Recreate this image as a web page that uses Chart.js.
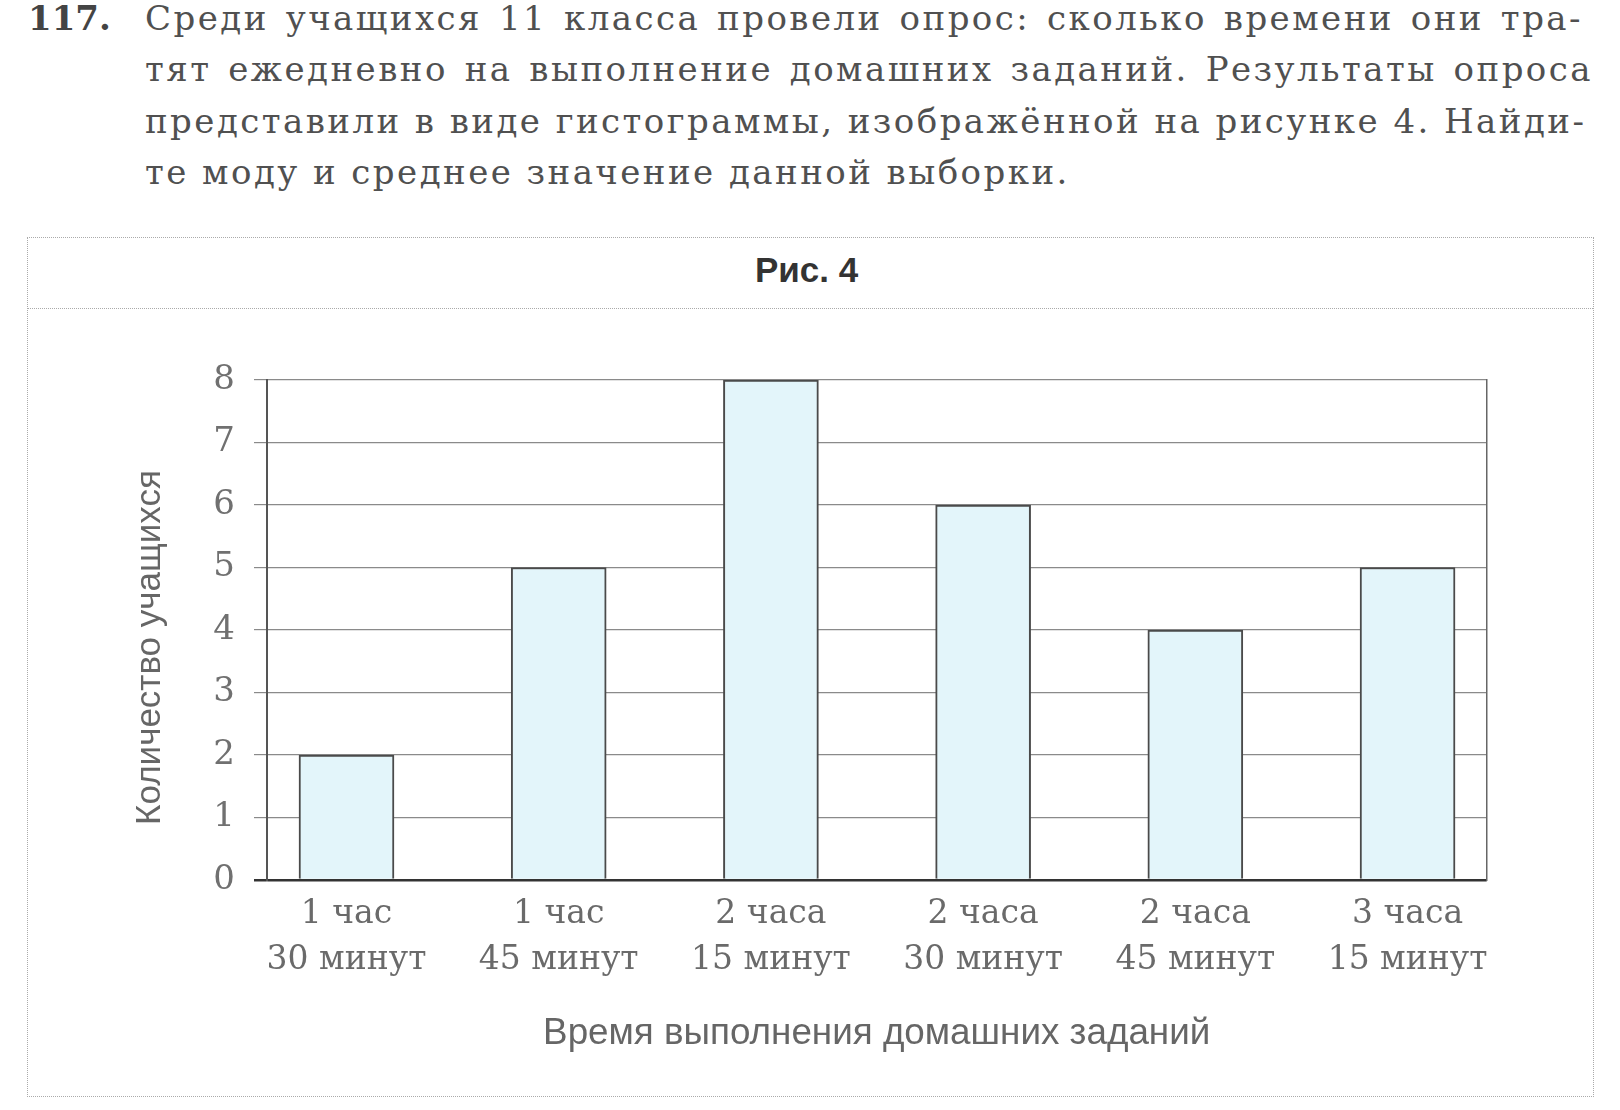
<!DOCTYPE html>
<html><head><meta charset="utf-8">
<script src="https://cdn.jsdelivr.net/npm/chart.js@4.4.0/dist/chart.umd.min.js"></script>
<style>
html,body{margin:0;padding:0;background:#fff;}
body{width:1620px;height:1110px;position:relative;overflow:hidden;}
#num{position:absolute;left:28px;top:-7px;font:bold 34px/51.5px "DejaVu Serif";color:#444;}
#problem{position:absolute;left:145px;width:1448px;top:-7.5px;font:34px/51.5px "DejaVu Serif";color:#505050;letter-spacing:2.45px;}
#problem div{white-space:nowrap;text-align:justify;text-align-last:justify;}
#problem div.hy{width:1438px;}
#problem div.last{text-align:left;text-align-last:left;}
#frame{position:absolute;left:27px;top:237px;width:1565px;height:858px;border:1px dotted #aaa;}
#sep{position:absolute;left:27px;top:308px;width:1566px;height:0;border-top:1px dotted #aaa;}
#fig{position:absolute;left:755px;top:252px;font:bold 35px/35px "Liberation Sans";color:#333;white-space:nowrap;}
#c{position:absolute;left:0;top:0;}
</style>
</head><body>
<div id="num">117.</div>
<div id="problem">
<div class="hy">Среди учащихся 11 класса провели опрос: сколько времени они тра-</div>
<div>тят ежедневно на выполнение домашних заданий. Результаты опроса</div>
<div class="hy">представили в виде гистограммы, изображённой на рисунке 4. Найди-</div>
<div class="last">те моду и среднее значение данной выборки.</div>
</div>
<div id="frame"></div>
<div id="sep"></div>
<div id="fig">Рис. 4</div>
<canvas id="c" width="1620" height="1110"></canvas>
<script>
const categories = [
  ["1 час", "30 минут"],
  ["1 час", "45 минут"],
  ["2 часа", "15 минут"],
  ["2 часа", "30 минут"],
  ["2 часа", "45 минут"],
  ["3 часа", "15 минут"]
];
const students = [2, 5, 8, 6, 4, 5];
const yTickValues = [0, 1, 2, 3, 4, 5, 6, 7, 8];
const xAxisTitle = "Время выполнения домашних заданий";
const yAxisTitle = "Количество учащихся";

const points = students.map((v, i) => ({x: i, y: v}));

new Chart(document.getElementById('c'), {
  type: 'bar',
  data: {
    datasets: [{
      data: points,
      backgroundColor: '#e3f5fa',
      borderColor: '#4a4a4a',
      borderWidth: 2,
      barThickness: 95
    }]
  },
  options: {
    responsive: false,
    animation: false,
    devicePixelRatio: 1,
    layout: {padding: {left: 125.5, right: 133.3, top: 380, bottom: 53.4}},
    plugins: {legend: {display: false}, tooltip: {enabled: false}, title: {display: false}},
    scales: {
      x: {
        type: 'linear',
        offset: false,
        min: -0.376,
        max: 5.373,
        grid: {display: false, drawTicks: false},
        border: {display: false},
        afterBuildTicks: (s) => { s.ticks = categories.map((_, i) => ({value: i})); },
        afterFit: (s) => { s.height = 176.6; },
        ticks: {
          autoSkip: false,
          maxRotation: 0,
          padding: 11,
          color: '#6a6a6a',
          font: {family: 'DejaVu Serif', size: 33, lineHeight: 1.4},
          callback: (v) => categories[v]
        },
        title: {
          display: true,
          text: xAxisTitle,
          color: '#666',
          font: {family: 'Liberation Sans', size: 36.8, lineHeight: 1.2},
          padding: {top: 0, bottom: 1}
        }
      },
      y: {
        position: 'left',
        min: 0,
        max: 8,
        afterBuildTicks: (s) => { s.ticks = yTickValues.map(v => ({value: v})); },
        afterFit: (s) => { s.width = 141.2; },
        grid: {
          color: (ctx) => ctx.tick && ctx.tick.value === 0 ? '#333' : '#8a8a8a',
          lineWidth: (ctx) => ctx.tick && ctx.tick.value === 0 ? 2.5 : 1.2,
          tickLength: 12.7,
          drawTicks: true
        },
        border: {display: true, color: '#555', width: 2},
        ticks: {
          padding: 19,
          color: '#707070',
          font: {family: 'DejaVu Serif', size: 34}
        },
        title: {
          display: true,
          text: yAxisTitle + '\u2003',
          color: '#666',
          font: {family: 'Liberation Sans', size: 35, lineHeight: 1.2},
          padding: {top: 4, bottom: 0}
        }
      },
      y2: {
        position: 'right',
        min: 0,
        max: 8,
        afterFit: (s) => { s.width = 0; },
        grid: {display: false, drawTicks: false},
        ticks: {display: false},
        border: {display: true, color: '#666', width: 1.5}
      }
    }
  }
});
</script>
</body></html>
